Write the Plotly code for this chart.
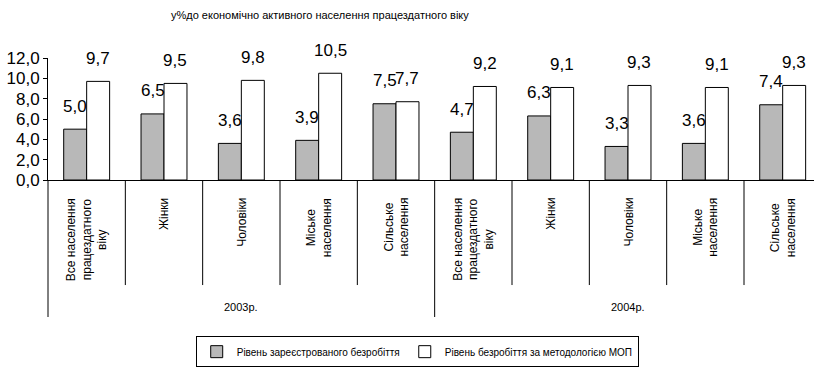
import plotly.graph_objects as go

categories = ["Все населення<br>працездатного<br>віку", "Жінки", "Чоловіки", "Міське<br>населення", "Сільське<br>населення",
              "Все населення<br>працездатного<br>віку", "Жінки", "Чоловіки", "Міське<br>населення", "Сільське<br>населення"]
years = ["2003р.", "2004р."]
group_size = 5
registered = [5.0, 6.5, 3.6, 3.9, 7.5, 4.7, 6.3, 3.3, 3.6, 7.4]
ilo = [9.7, 9.5, 9.8, 10.5, 7.7, 9.2, 9.1, 9.3, 9.1, 9.3]
series_names = ["Рівень зареєстрованого безробіття", "Рівень безробіття за методологією МОП"]
title_text = "у%до економічно активного населення працездатного віку"

FONT = "Liberation Sans, Arial, sans-serif"
BARGAP = 0.406
xs = list(range(len(categories)))

fig = go.Figure()
fig.add_trace(go.Bar(x=xs, y=registered, name=series_names[0],
                     marker=dict(color="#b8b8b8", line=dict(color="black", width=1))))
fig.add_trace(go.Bar(x=xs, y=ilo, name=series_names[1],
                     marker=dict(color="white", line=dict(color="black", width=1))))

off = (1 - BARGAP) / 4
ann = []
for i in xs:
    for vals, sgn in ((registered, -1), (ilo, 1)):
        v = vals[i]
        ann.append(dict(x=i + sgn * off, y=v, xref="x", yref="y", text=f"{v:.1f}".replace(".", ","),
                        showarrow=False, yanchor="middle", yshift=23,
                        font=dict(family=FONT, size=17, color="black")))
    ann.append(dict(x=i, y=0, xref="x", yref="paper", text=categories[i], textangle=-90,
                    showarrow=False, yanchor="top", yshift=-16, align="center",
                    font=dict(family=FONT, size=12, color="black")))
for g, yr in enumerate(years):
    cx = g * group_size + (group_size - 1) / 2
    ann.append(dict(x=cx, y=0, xref="x", yref="paper", text=yr, showarrow=False,
                    yanchor="middle", yshift=-127, font=dict(family=FONT, size=11, color="black")))

shapes = []
for b in range(1, len(categories)):
    long = (b % group_size == 0)
    shapes.append(dict(type="line", xref="x", yref="paper", x0=b - 0.5, x1=b - 0.5,
                       y0=0, y1=-1.123 if long else -0.861, line=dict(color="black", width=1)))
shapes.append(dict(type="line", xref="paper", yref="paper", x0=0, x1=0, y0=0, y1=-1.123,
                   line=dict(color="black", width=1)))

fig.update_layout(
    width=814, height=370,
    margin=dict(l=48, r=0, t=58, b=190),
    paper_bgcolor="white", plot_bgcolor="white",
    barmode="group", bargap=BARGAP, bargroupgap=0,
    separators=", ",
    showlegend=True,
    legend=dict(orientation="h", x=0.482, xanchor="center", y=-1.28, yanchor="top",
                bordercolor="black", borderwidth=1, itemwidth=30,
                font=dict(family=FONT, size=10, color="black"), tracegroupgap=0),
    title=dict(text=title_text, x=0.393, xanchor="center", y=1 - 15 / 370, yanchor="middle",
               font=dict(family=FONT, size=11, color="black")),
    annotations=ann, shapes=shapes,
)
fig.update_xaxes(range=[-0.5, 9.405], showticklabels=False, ticks="", showgrid=False,
                 showline=True, linecolor="black", linewidth=1, zeroline=False)
fig.update_yaxes(range=[0, 12], dtick=2, tickformat=".1f", ticks="outside", ticklen=4,
                 tickcolor="black", showgrid=False, showline=True, linecolor="black", linewidth=1,
                 zeroline=False, tickfont=dict(family=FONT, size=17, color="black"))

fig.write_html("out.html")
